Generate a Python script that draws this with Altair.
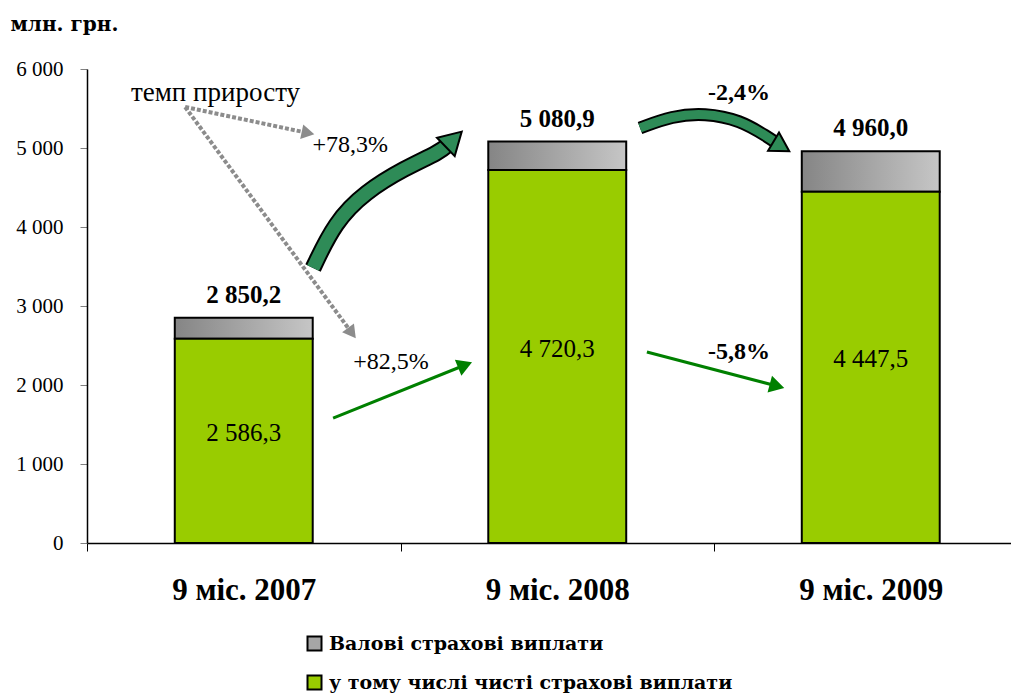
import altair as alt
import pandas as pd

# ---------------- data ----------------
categories = ["9 міс. 2007", "9 міс. 2008", "9 міс. 2009"]
gross_values = [2850.2, 5080.9, 4960.0]
net_values = [2586.3, 4720.3, 4447.5]
series_names = ["Валові страхові виплати", "у тому числі чисті страхові виплати"]
y_ticks = [0, 1000, 2000, 3000, 4000, 5000, 6000]

# annotations (data units: x = category slot index, y = млн. грн.)
note_title = ["темп приросту"]
note_title_x = [0.41]
note_title_y = [5690]

growth_text = ["+78,3%", "+82,5%", "-2,4%", "-5,8%"]
growth_x = [0.84, 0.97, 2.08, 2.08]
growth_y = [5040, 2290, 5700, 2420]
growth_bold = [False, False, True, True]

dotted_id = [0, 0, 1, 1]
dotted_x = [0.313, 0.705, 0.313, 0.845]
dotted_y = [5519, 5190, 5519, 2658]
dotted_head_x = [0.705, 0.845]
dotted_head_y = [5190, 2658]
dotted_head_angle = [12, 53]

straight_id = [0, 0, 1, 1]
straight_x = [0.785, 1.206, 1.786, 2.201]
straight_y = [1582, 2253, 2418, 1987]
straight_head_x = [1.206, 2.201]
straight_head_y = [2253, 1987]
straight_head_angle = [338, 15]

curve_id = [0, 0, 0, 0, 0, 0, 1, 1, 1, 1, 1, 1]
curve_order = [0, 1, 2, 3, 4, 5, 0, 1, 2, 3, 4, 5]
curve_width = [13] * 6 + [9] * 6
curve_x = [0.721, 0.791, 0.887, 1.014, 1.126, 1.158,
           1.764, 1.866, 1.971, 2.083, 2.172, 2.204]
curve_y = [3481, 4063, 4443, 4747, 4949, 5063,
           5253, 5405, 5443, 5354, 5139, 5051]
curve_head_x = [1.170, 2.215]
curve_head_y = [5110, 5020]
curve_head_angle = [316, 31]
curve_head_size = [650, 450]

# ---------------- layout ----------------
W, H = 924, 474
STEP_PX = 313.5
XMAX = W / STEP_PX
FONT = "Liberation Serif, Times New Roman, serif"
WIDE_FONT = "DejaVu Serif, serif"
GREEN = "#99cc00"
ARROW_GREEN = "#008000"
BLOCK_GREEN = "#2e8b57"
GREY = "#8c8c8c"

bars = pd.DataFrame({
    "cat": categories,
    "idx": list(range(len(categories))),
    "gross": gross_values,
    "net": net_values,
    "series": series_names[1],
})

label_expr = "[" + ",".join("'" + c + "'" for c in categories) + "][datum.value]"

xs = alt.Scale(domain=[0, XMAX], nice=False, zero=False)
ys = alt.Scale(domain=[0, 6000], nice=False)

x_axis = alt.Axis(values=list(range(len(categories))), labelExpr=label_expr,
                  labelOffset=STEP_PX / 2, labelFlush=False, labelOverlap=False,
                  title=None, grid=False)
y_axis = alt.Axis(values=y_ticks,
                  labelExpr="replace(format(datum.value, ','), ',', ' ')",
                  title="млн. грн.", grid=False)


def X(f):
    return alt.X(f, type="quantitative", scale=xs, axis=x_axis)


def Y(f):
    return alt.Y(f, type="quantitative", scale=ys, axis=y_axis)


base = alt.Chart(bars).transform_calculate(
    x0="datum.idx + 0.28", x1="datum.idx + 0.72"
)

gradient = alt.Gradient(
    gradient="linear",
    stops=[alt.GradientStop(color="#858585", offset=0),
           alt.GradientStop(color="#c6c6c6", offset=1)],
    x1=0, x2=1, y1=0, y2=0,
)

gross_bar = base.mark_bar(fill=gradient, stroke="black", strokeWidth=2).encode(
    x=X("x0"), x2="x1", y=Y("net"), y2="gross"
)

net_bar = base.mark_bar(stroke="black", strokeWidth=2).encode(
    x=X("x0"), x2="x1", y=Y("zero"), y2="net",
    fill=alt.Fill("series:N",
                  scale=alt.Scale(domain=series_names, range=["#a6a6a6", GREEN]),
                  legend=alt.Legend(orient="none", legendX=218, legendY=565,
                                    direction="vertical", title=None,
                                    symbolType="square", symbolSize=196,
                                    symbolStrokeColor="black", symbolStrokeWidth=2,
                                    labelFont=WIDE_FONT, labelFontWeight="bold",
                                    labelFontSize=19, labelColor="black",
                                    rowPadding=16, labelOffset=5, padding=0,
                                    labelLimit=0)),
).transform_calculate(zero="0")

gross_text = base.mark_text(font=FONT, fontSize=25, fontWeight="bold",
                            baseline="bottom", dy=-10, color="black").encode(
    x=X("xc"), y=Y("gross"), text="lab:N"
).transform_calculate(
    xc="datum.idx + 0.5",
    lab="replace(replace(format(datum.gross, ',.1f'), ',', ' '), '.', ',')",
)

net_text = base.mark_text(font=FONT, fontSize=25, baseline="middle", dy=-8,
                          color="black").encode(
    x=X("xc"), y=Y("ym"), text="lab:N"
).transform_calculate(
    xc="datum.idx + 0.5",
    ym="datum.net / 2",
    lab="replace(replace(format(datum.net, ',.1f'), ',', ' '), '.', ',')",
)

# dotted grey arrows
dotted_df = pd.DataFrame({"id": dotted_id, "x": dotted_x, "y": dotted_y,
                          "o": [0, 1, 0, 1]})
dotted_lines = alt.Chart(dotted_df).mark_line(
    color=GREY, strokeWidth=4, strokeDash=[4, 2]
).encode(x=X("x"), y=Y("y"), detail="id:N", order="o:Q")
dotted_heads = alt.Chart(pd.DataFrame({
    "x": dotted_head_x, "y": dotted_head_y, "a": dotted_head_angle
})).mark_point(shape="triangle-right", filled=True, size=220, color=GREY,
               opacity=1).encode(
    x=X("x"), y=Y("y"), angle=alt.Angle("a:Q", scale=None)
)

# straight green arrows
straight_df = pd.DataFrame({"id": straight_id, "x": straight_x, "y": straight_y,
                            "o": [0, 1, 0, 1]})
straight_lines = alt.Chart(straight_df).mark_line(
    color=ARROW_GREEN, strokeWidth=3
).encode(x=X("x"), y=Y("y"), detail="id:N", order="o:Q")
straight_heads = alt.Chart(pd.DataFrame({
    "x": straight_head_x, "y": straight_head_y, "a": straight_head_angle
})).mark_point(shape="triangle-right", filled=True, size=300, color=ARROW_GREEN,
               opacity=1).encode(
    x=X("x"), y=Y("y"), angle=alt.Angle("a:Q", scale=None)
)

# curved block arrows
curve_df = pd.DataFrame({"id": curve_id, "o": curve_order, "x": curve_x,
                         "y": curve_y, "w": curve_width})
curve_outline = alt.Chart(curve_df).mark_line(
    color="black", interpolate="basis", strokeCap="butt"
).encode(x=X("x"), y=Y("y"), detail="id:N", order="o:Q",
         strokeWidth=alt.StrokeWidth("wo:Q", scale=None)).transform_calculate(
    wo="datum.w + 4")
curve_fill = alt.Chart(curve_df).mark_line(
    color=BLOCK_GREEN, interpolate="basis", strokeCap="butt"
).encode(x=X("x"), y=Y("y"), detail="id:N", order="o:Q",
         strokeWidth=alt.StrokeWidth("w:Q", scale=None))
curve_heads = alt.Chart(pd.DataFrame({
    "x": curve_head_x, "y": curve_head_y, "a": curve_head_angle,
    "s": curve_head_size,
})).mark_point(shape="triangle-right", filled=True, fill=BLOCK_GREEN,
               stroke="black", strokeWidth=2, opacity=1).encode(
    x=X("x"), y=Y("y"), angle=alt.Angle("a:Q", scale=None),
    size=alt.Size("s:Q", scale=None),
)

# texts
title_text = alt.Chart(pd.DataFrame({
    "t": note_title, "x": note_title_x, "y": note_title_y
})).mark_text(font=FONT, fontSize=27, color="black", baseline="middle").encode(
    x=X("x"), y=Y("y"), text="t:N"
)

growth_df = pd.DataFrame({"t": growth_text, "x": growth_x, "y": growth_y,
                          "b": growth_bold})
growth_normal = alt.Chart(growth_df).transform_filter("!datum.b").mark_text(
    font=FONT, fontSize=24, color="black", baseline="middle"
).encode(x=X("x"), y=Y("y"), text="t:N")
growth_boldt = alt.Chart(growth_df).transform_filter("datum.b").mark_text(
    font=FONT, fontSize=24, fontWeight="bold", color="black", baseline="middle"
).encode(x=X("x"), y=Y("y"), text="t:N")

chart = alt.layer(
    gross_bar, net_bar, gross_text, net_text,
    dotted_lines, dotted_heads, straight_lines, straight_heads,
    curve_outline, curve_fill, curve_heads,
    title_text, growth_normal, growth_boldt,
).properties(
    width=W, height=H,
    autosize=alt.AutoSizeParams(type="none"),
    padding={"left": 79, "top": 61, "right": 0, "bottom": 152},
).configure_view(stroke=None).configure_axisX(
    domainColor="black", domainWidth=1.5, tickColor="black", tickSize=8,
    labelFont=FONT, labelFontSize=31, labelFontWeight="bold", labelColor="black",
    labelPadding=24, labelAngle=0,
).configure_axisY(
    domainColor="black", domainWidth=1.5, tickColor="#808080", tickSize=7,
    labelFont=FONT, labelFontSize=21, labelColor="black", labelPadding=17,
    titleFont=WIDE_FONT, titleFontSize=20, titleFontWeight="bold", titleColor="black",
    titleAngle=0, titleAlign="left", titleBaseline="alphabetic",
    titleX=-77, titleY=-39,
)

chart.save("out.html", embed_options={"renderer": "svg", "actions": False})
